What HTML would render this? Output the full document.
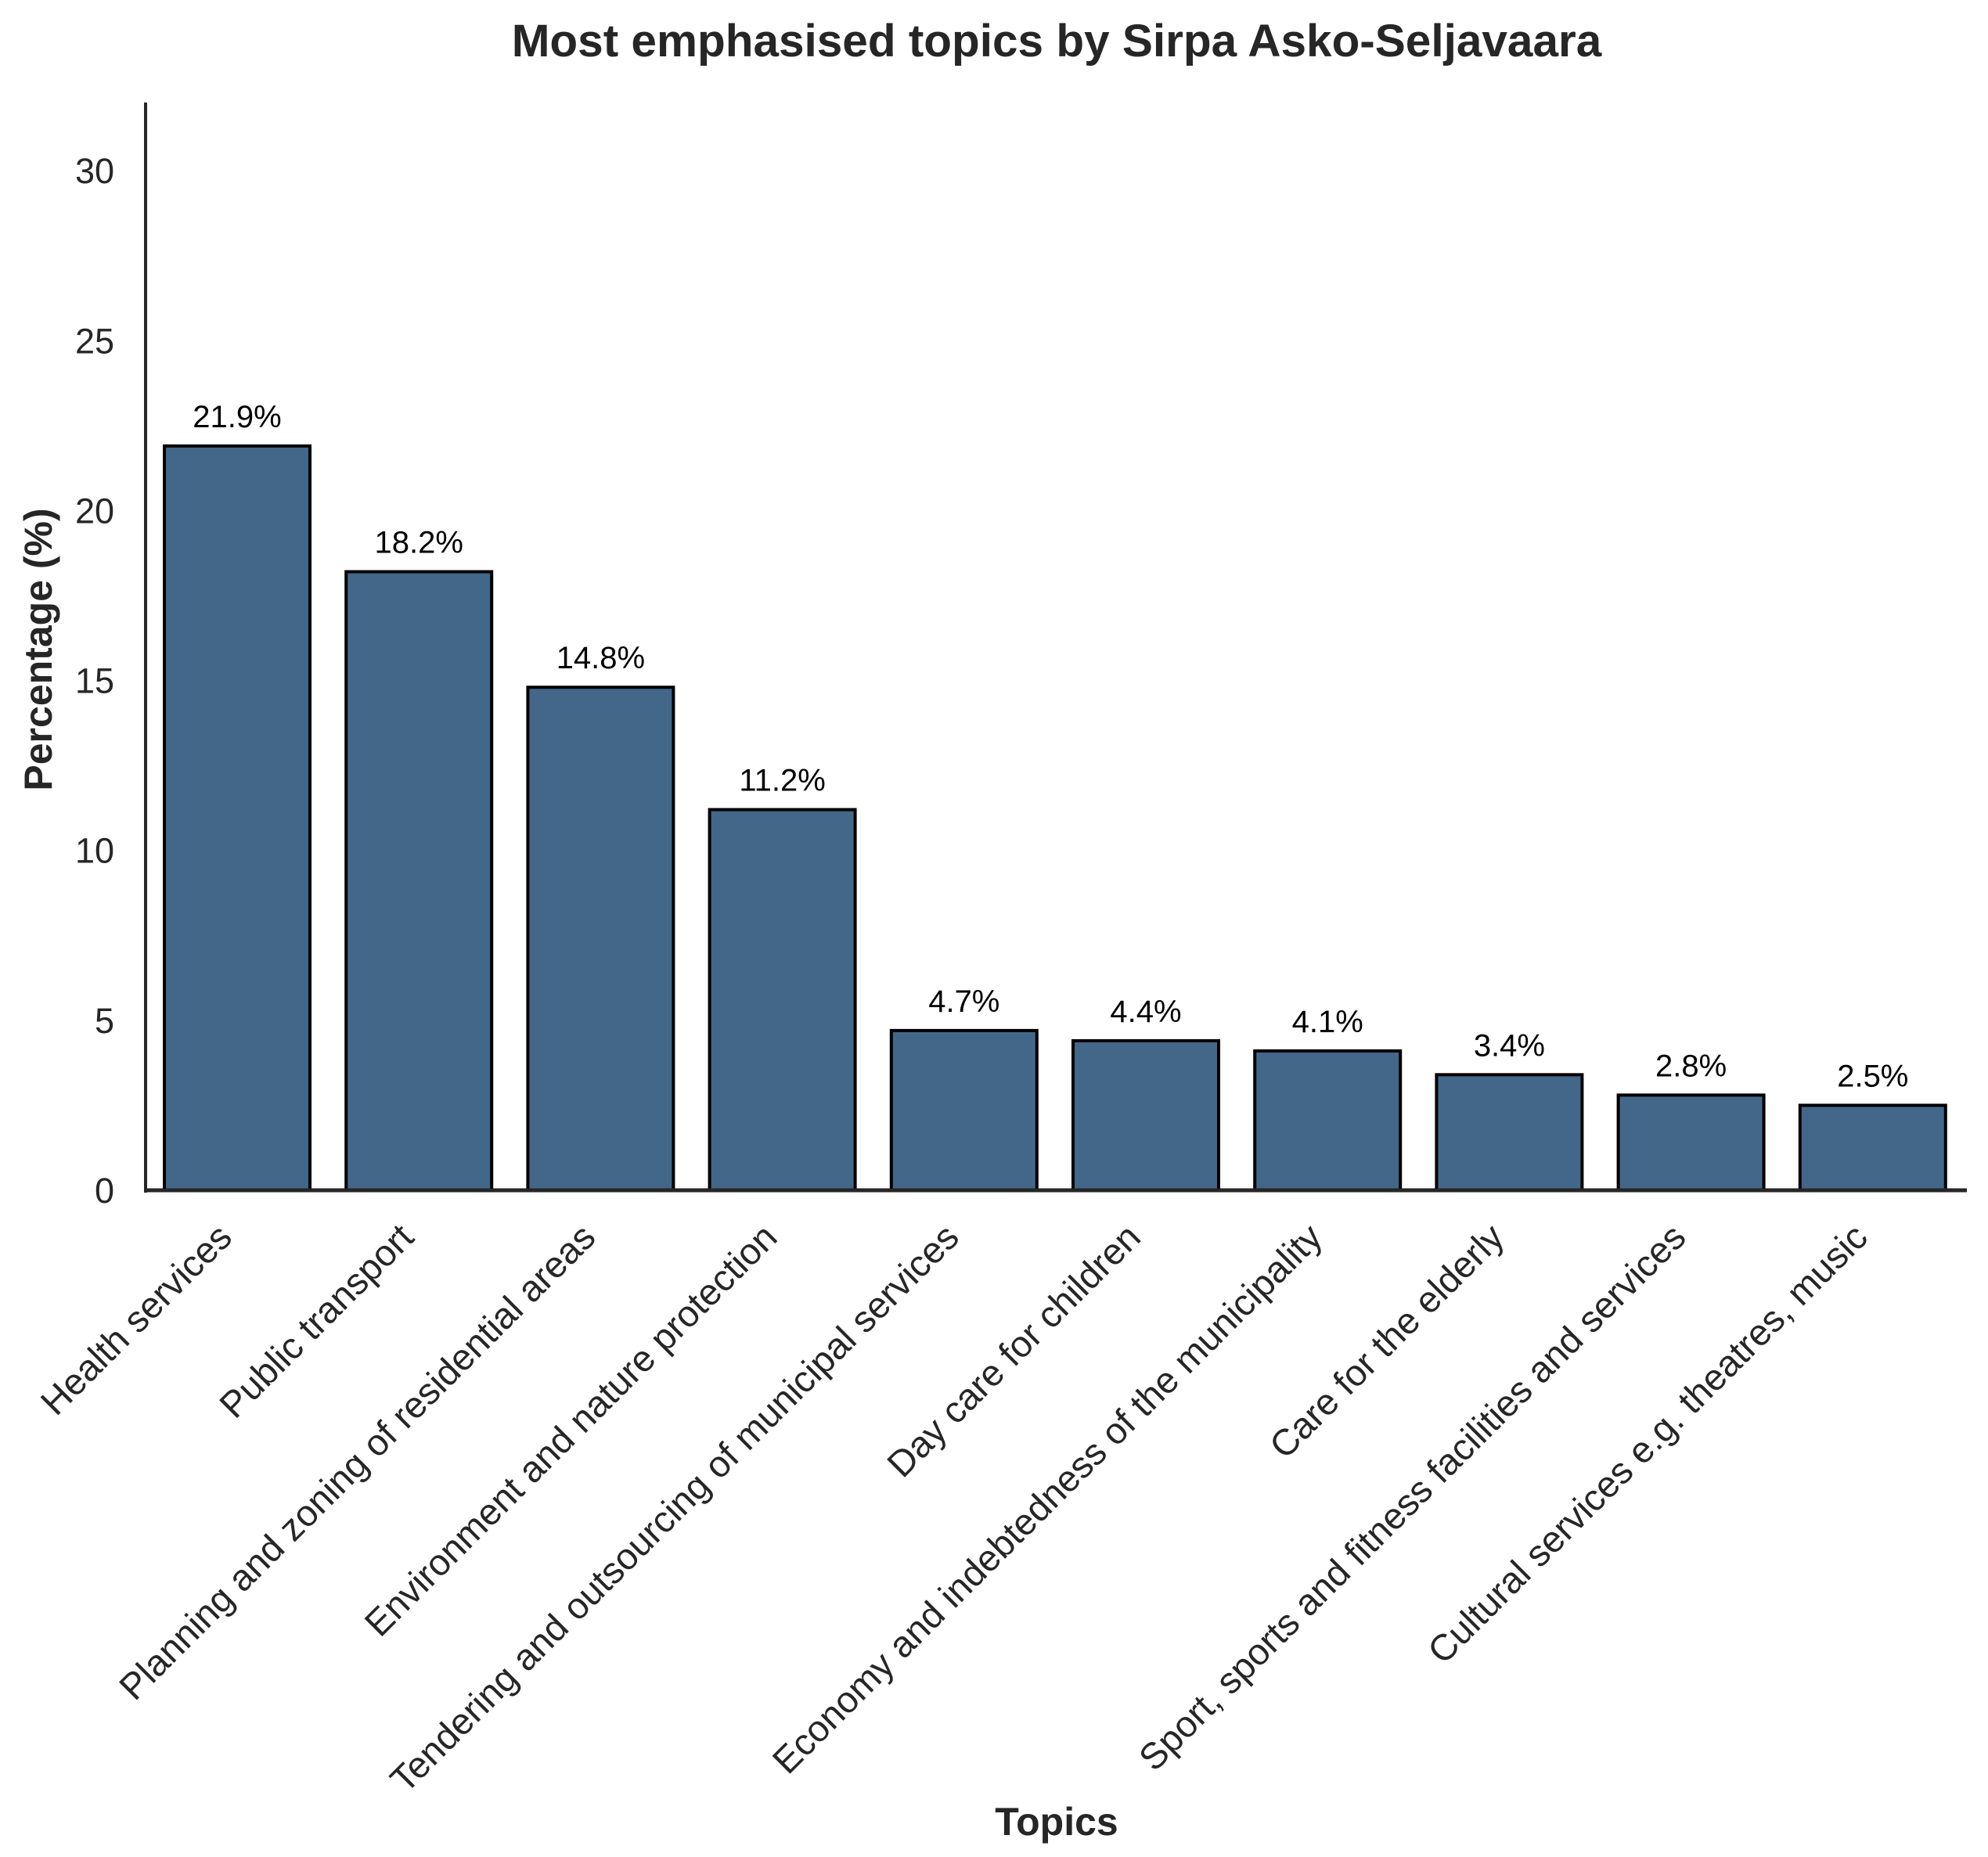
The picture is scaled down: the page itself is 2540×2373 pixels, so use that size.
<!DOCTYPE html>
<html><head><meta charset="utf-8"><style>
html,body{margin:0;padding:0;background:#fff;}
svg{display:block;font-family:"Liberation Sans",Arial,sans-serif;}
</style></head><body>
<svg id="chart" width="2540" height="2373" viewBox="0 0 2540 2373">
<text x="1350" y="72" text-anchor="middle" font-size="58.5" font-weight="bold" fill="#262626">Most emphasised topics by Sirpa Asko-Seljavaara</text>
<text transform="translate(66,830) rotate(-90)" text-anchor="middle" font-size="50" font-weight="bold" fill="#262626">Percentage (%)</text>
<text x="1350" y="2345" text-anchor="middle" font-size="50" font-weight="bold" fill="#262626">Topics</text>
<g id="yticks"></g>
<g id="bars"></g>
<g id="xlabels"></g>
<line x1="186" y1="131" x2="186" y2="1524" stroke="#262626" stroke-width="4"/>
<line x1="184" y1="1521" x2="2513" y2="1521" stroke="#262626" stroke-width="5"/>
</svg>
<script>
const categories = ["Health services","Public transport","Planning and zoning of residential areas","Environment and nature protection","Tendering and outsourcing of municipal services","Day care for children","Economy and indebtedness of the municipality","Care for the elderly","Sport, sports and fitness facilities and services","Cultural services e.g. theatres, music"];
const values = [21.9,18.2,14.8,11.2,4.7,4.4,4.1,3.4,2.8,2.5];
const valueLabels = ["21.9%","18.2%","14.8%","11.2%","4.7%","4.4%","4.1%","3.4%","2.8%","2.5%"];
const yTicks = [0,5,10,15,20,25,30];

const NS = "http://www.w3.org/2000/svg";
const y0 = 1521, yPerUnit = 43.43;
const x0 = 303, step = 232.2, barW = 186;
function yScale(v){ return y0 - v * yPerUnit; }
function xScale(i){ return x0 + i * step; }

const yt = document.getElementById('yticks');
yTicks.forEach(t => {
  const tx = document.createElementNS(NS,'text');
  tx.setAttribute('x', 146);
  tx.setAttribute('y', yScale(t) + 16);
  tx.setAttribute('text-anchor','end');
  tx.setAttribute('font-size','45');
  tx.setAttribute('fill','#262626');
  tx.textContent = t;
  
  
  yt.appendChild(tx);
});

const bg = document.getElementById('bars');
const xl = document.getElementById('xlabels');
values.forEach((v,i) => {
  const cx = xScale(i);
  const r = document.createElementNS(NS,'rect');
  r.setAttribute('x', cx - barW/2);
  r.setAttribute('y', yScale(v));
  r.setAttribute('width', barW);
  r.setAttribute('height', y0 - yScale(v));
  r.setAttribute('fill','#426789');
  r.setAttribute('stroke','#000');
  r.setAttribute('stroke-width','4');
  
  
  bg.appendChild(r);
  const lb = document.createElementNS(NS,'text');
  lb.setAttribute('x', cx);
  lb.setAttribute('y', yScale(v) - 24);
  lb.setAttribute('text-anchor','middle');
  lb.setAttribute('font-size','40');
  lb.setAttribute('fill','#000');
  lb.textContent = valueLabels[i];
  
  
  bg.appendChild(lb);
  const xt = document.createElementNS(NS,'text');
  xt.setAttribute('transform', 'translate(' + (cx - 28) + ',1560) rotate(-45)');
  xt.setAttribute('text-anchor','end');
  xt.setAttribute('dy','0.72em');
  xt.setAttribute('font-size','47');
  xt.setAttribute('fill','#262626');
  xt.textContent = categories[i];
  
  
  xl.appendChild(xt);
});
</script>
</body></html>
